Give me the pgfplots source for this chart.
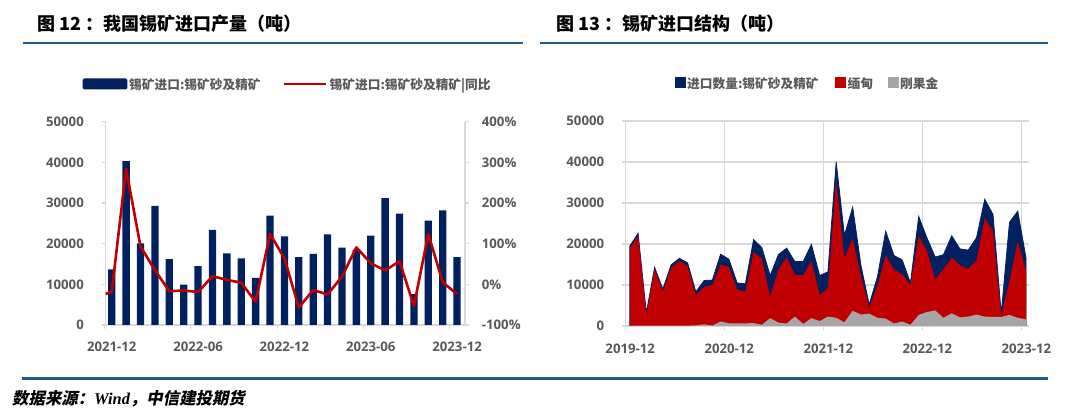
\documentclass[border=0pt]{standalone}
\usepackage{pgfplots}
\usepackage{pgfplotstable}
\pgfplotsset{compat=1.18}
\usepackage{fontspec}
\setmainfont{Open Sans}
\newfontfamily\cjk{Noto Sans CJK SC}
\newfontfamily\cjksl{Noto Sans CJK SC}[FakeSlant=0.2]
\newfontfamily\serifit{Liberation Serif}

\definecolor{navy}{HTML}{002060}
\definecolor{tinred}{HTML}{C00000}
\definecolor{congo}{HTML}{A6A6A6}
\definecolor{rulebl}{HTML}{1F5B8A}
\definecolor{lblgray}{HTML}{595959}
\definecolor{gridgray}{HTML}{D9D9D9}

\newcommand\tickfont{\fontsize{13.2}{15}\selectfont\bfseries}
\newcommand\legfont{\cjk\bfseries\fontsize{12.7}{15}\selectfont}

% 锡矿进口结构: total / Myanmar / DR Congo, 2019-12 .. 2023-12
\pgfplotstableread{
x    total mm    cd
0.5  19500 18900 100
1.5  22600 22000 100
2.5  3200  2700  100
3.5  14300 13800 100
4.5  9000  8500  100
5.5  14900 14200 100
6.5  16500 15800 100
7.5  15400 14600 100
8.5  8300  7500  150
9.5  11100 9600  400
10.5 11200 10000 100
11.5 17500 15000 1100
12.5 16300 14400 650
13.5 10500 8900  650
14.5 10300 8400  650
15.5 21100 18100 700
16.5 19100 16400 300
17.5 12300 7100  1900
18.5 17400 13800 850
19.5 19000 16800 600
20.5 15700 12500 2300
21.5 15700 12400 500
22.5 19900 15900 1900
23.5 12300 7500  1200
24.5 13200 9300  2300
25.5 40000 35800 2000
26.5 22100 16500 900
27.5 29000 21400 3700
28.5 14800 12200 2800
29.5 5200  4500  3000
30.5 12000 9800  2000
31.5 23100 17300 1800
32.5 17200 13800 600
33.5 16100 12600 1100
34.5 10500 10000 300
35.5 26700 22000 2700
36.5 21500 18300 3400
37.5 16800 11400 3800
38.5 17400 13800 2000
39.5 22000 16700 3100
40.5 18800 14800 2100
41.5 18500 14000 2300
42.5 21500 16000 2800
43.5 30900 26300 2300
44.5 27200 23200 2200
45.5 3000  2500  2200
46.5 25300 11000 2700
47.5 28000 20600 2000
48.5 16600 13400 1600
}\structtab

\begin{document}
\begin{tikzpicture}
\path[use as bounding box] (0,0) rectangle (1080pt,417pt);

% titles and rules
\node[anchor=base west, inner sep=0] at (37pt,386pt) {\cjk\bfseries\fontsize{18}{20}\selectfont 图 12 ：我国锡矿进口产量（吨）};
\node[anchor=base west, inner sep=0] at (556pt,386pt) {\cjk\bfseries\fontsize{18}{20}\selectfont 图 13 ：锡矿进口结构（吨）};
\fill[rulebl] (23pt,372.7pt) rectangle (523pt,375.3pt);
\fill[rulebl] (540pt,372.7pt) rectangle (1048pt,375.3pt);
\fill[rulebl] (22pt,36.5pt) rectangle (1048pt,39.5pt);
\node[anchor=base west, inner sep=0] at (12pt,12pt) {\cjksl\bfseries\fontsize{16.4}{18}\selectfont 数据来源：{\serifit\bfseries\itshape Wind}，中信建投期货};

% legend, left chart
\fill[navy, rounded corners=1.5pt] (82.7pt,327.5pt) rectangle (127.3pt,338.5pt);
\node[anchor=base west, inner sep=0, text=lblgray] at (129pt,327.8pt) {\legfont 锡矿进口:锡矿砂及精矿};
\draw[tinred, line width=2.6pt] (284pt,333pt) -- (326pt,333pt);
\node[anchor=base west, inner sep=0, text=lblgray] at (329.5pt,327.8pt) {\legfont 锡矿进口:锡矿砂及精矿|同比};

% legend, right chart
\fill[navy] (675pt,328.7pt) rectangle (686pt,339.7pt);
\node[anchor=base west, inner sep=0, text=lblgray] at (687pt,328.5pt) {\legfont 进口数量:锡矿砂及精矿};
\fill[tinred] (835pt,328.7pt) rectangle (846pt,339.7pt);
\node[anchor=base west, inner sep=0, text=lblgray] at (847.5pt,328.5pt) {\legfont 缅甸};
\fill[congo] (888pt,328.7pt) rectangle (899pt,339.7pt);
\node[anchor=base west, inner sep=0, text=lblgray] at (900pt,328.5pt) {\legfont 刚果金};

\pgfplotsset{
  every axis/.append style={
    scale only axis, anchor=south west,
    scaled y ticks=false, scaled x ticks=false,
    tick align=outside, major tick length=4pt,
    tick style={draw=gridgray, line width=1.2pt},
    axis line style={-, draw=gridgray, line width=1.2pt},
    ticklabel style={font=\tickfont, text=lblgray, inner sep=0pt},
  },
}

% left chart: bars
\begin{axis}[
  at={(105.7pt,92pt)}, width=359.3pt, height=203.3pt,
  xmin=-0.42, xmax=24.55, ymin=0, ymax=50000,
  axis x line*=bottom, axis y line*=left,
  ybar, bar width=7.3pt,
  ytick={0,10000,20000,30000,40000,50000},
  yticklabels={0,10000,20000,30000,40000,50000},
  xtick={0,6,12,18,24},
  xticklabels={2021-12,2022-06,2022-12,2023-06,2023-12},
  xtick style={xshift=-7.2pt},
  yticklabel style={anchor=east, xshift=-17.7pt},
  xticklabel style={anchor=north, yshift=-13.2pt},
]
\addplot[fill=navy, draw=none] coordinates {
(0,13700) (1,40300) (2,20100) (3,29300) (4,16200) (5,9900) (6,14500)
(7,23400) (8,17600) (9,16400) (10,11600) (11,26900) (12,21800) (13,16700)
(14,17500) (15,22300) (16,19000) (17,18500) (18,22000) (19,31200) (20,27400)
(21,7600) (22,25700) (23,28200) (24,16700)};
\end{axis}

% left chart: yoy line
\begin{axis}[
  at={(105.7pt,92pt)}, width=359.3pt, height=203.3pt,
  xmin=-0.42, xmax=24.55, ymin=-100, ymax=400,
  axis x line=none, axis y line*=right,
  ytick={-100,0,100,200,300,400},
  yticklabels={-100\%,0\%,100\%,200\%,300\%,400\%},
  yticklabel style={anchor=west, xshift=12.7pt},
]
\addplot[tinred, line width=2.6pt, line join=round] coordinates {
(-1,-31) (0,-18) (1,284) (2,93) (3,35) (4,-17) (5,-15) (6,-19) (7,20)
(8,11) (9,4) (10,-43) (11,124) (12,64) (13,-57) (14,-14) (15,-25) (16,19)
(17,91) (18,52) (19,34) (20,57) (21,-53) (22,124) (23,5) (24,-24)};
\end{axis}

% right chart: import structure
\begin{axis}[
  at={(625.7pt,91pt)}, width=403.6pt, height=205pt,
  xmin=0, xmax=48.9, ymin=0, ymax=50000,
  axis x line*=bottom, axis y line*=left,
  grid=major, grid style={draw=gridgray, line width=1.2pt},
  ytick={0,10000,20000,30000,40000,50000},
  yticklabels={0,10000,20000,30000,40000,50000},
  xtick={0,12,24,36,48},
  xticklabels={2019-12,2020-12,2021-12,2022-12,2023-12},
  yticklabel style={anchor=east, xshift=-17.4pt},
  xticklabel style={anchor=north, yshift=-14.2pt, xshift=4.5pt},
]
\addplot[fill=navy, draw=navy, line width=0.8pt] table[x=x, y=total] {\structtab} \closedcycle;
\addplot[fill=tinred, draw=none] table[x=x, y=mm] {\structtab} \closedcycle;
\addplot[fill=congo, draw=none] table[x=x, y=cd] {\structtab} \closedcycle;
\end{axis}
\end{tikzpicture}
\end{document}
